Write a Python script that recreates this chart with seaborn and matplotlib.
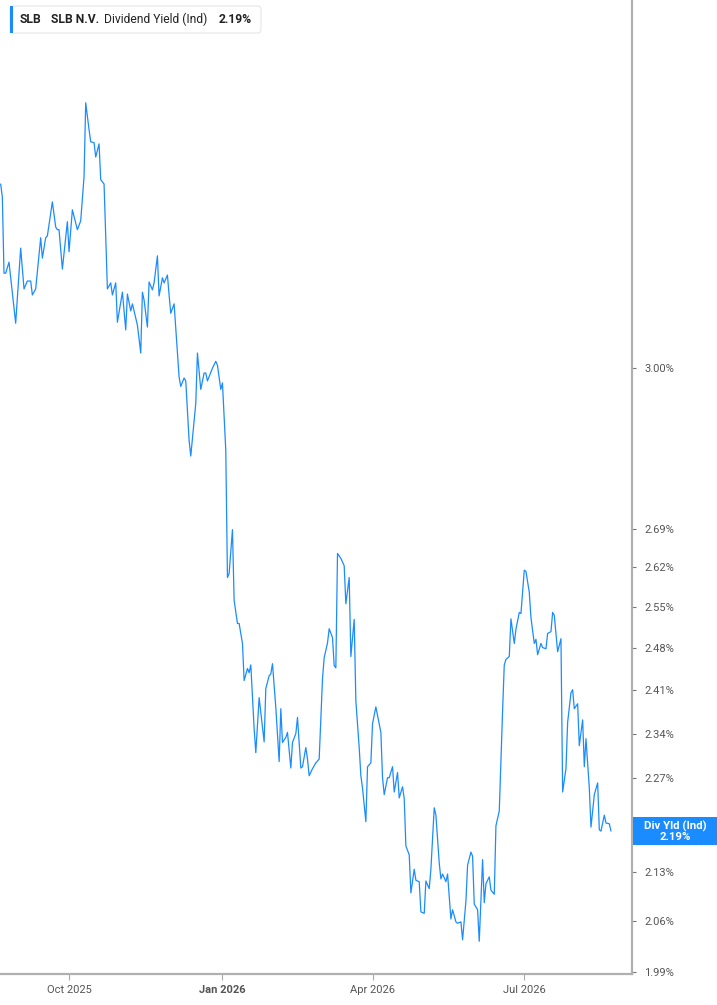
import pandas as pd
import seaborn as sns
import matplotlib.pyplot as plt
import matplotlib.dates as mdates
from matplotlib.patches import Rectangle, FancyBboxPatch
from matplotlib.ticker import FixedLocator, NullLocator

# SLB dividend yield (indicated)
dates = [
    '2025-08-21', '2025-08-22', '2025-08-23', '2025-08-24', '2025-08-26', '2025-08-30',
    '2025-09-02', '2025-09-04', '2025-09-06', '2025-09-08', '2025-09-09', '2025-09-11',
    '2025-09-14', '2025-09-15', '2025-09-17', '2025-09-18', '2025-09-21', '2025-09-23',
    '2025-09-24', '2025-09-25', '2025-09-27', '2025-09-28', '2025-09-30', '2025-10-01',
    '2025-10-03', '2025-10-06', '2025-10-08', '2025-10-10', '2025-10-11', '2025-10-13',
    '2025-10-14', '2025-10-16', '2025-10-17', '2025-10-19', '2025-10-20', '2025-10-22',
    '2025-10-24', '2025-10-26', '2025-10-27', '2025-10-29', '2025-10-30', '2025-11-01',
    '2025-11-02', '2025-11-04', '2025-11-05', '2025-11-07', '2025-11-08', '2025-11-11',
    '2025-11-13', '2025-11-14', '2025-11-15', '2025-11-17', '2025-11-18', '2025-11-20',
    '2025-11-21', '2025-11-23', '2025-11-24', '2025-11-26', '2025-11-27', '2025-11-29',
    '2025-11-30', '2025-12-01', '2025-12-03', '2025-12-05', '2025-12-06', '2025-12-07',
    '2025-12-09', '2025-12-10', '2025-12-12', '2025-12-13', '2025-12-16', '2025-12-17',
    '2025-12-19', '2025-12-21', '2025-12-22', '2025-12-23', '2025-12-26', '2025-12-28',
    '2025-12-29', '2025-12-31', '2026-01-01', '2026-01-03', '2026-01-04', '2026-01-05',
    '2026-01-07', '2026-01-08', '2026-01-10', '2026-01-11', '2026-01-13', '2026-01-14',
    '2026-01-16', '2026-01-17', '2026-01-18', '2026-01-20', '2026-01-21', '2026-01-23',
    '2026-01-24', '2026-01-26', '2026-01-27', '2026-01-29', '2026-01-30', '2026-01-31',
    '2026-02-02', '2026-02-04', '2026-02-05', '2026-02-06', '2026-02-08', '2026-02-09',
    '2026-02-11', '2026-02-12', '2026-02-14', '2026-02-15', '2026-02-17', '2026-02-18',
    '2026-02-20', '2026-02-21', '2026-02-22', '2026-02-24', '2026-02-26', '2026-02-28',
    '2026-03-02', '2026-03-03', '2026-03-05', '2026-03-06', '2026-03-08', '2026-03-09',
    '2026-03-10', '2026-03-11', '2026-03-13', '2026-03-15', '2026-03-16', '2026-03-18',
    '2026-03-19', '2026-03-21', '2026-03-22', '2026-03-24', '2026-03-25', '2026-03-26',
    '2026-03-28', '2026-03-29', '2026-03-31', '2026-04-01', '2026-04-03', '2026-04-04',
    '2026-04-06', '2026-04-07', '2026-04-08', '2026-04-10', '2026-04-11', '2026-04-13',
    '2026-04-14', '2026-04-16', '2026-04-17', '2026-04-19', '2026-04-20', '2026-04-21',
    '2026-04-23', '2026-04-24', '2026-04-26', '2026-04-27', '2026-04-29', '2026-04-30',
    '2026-05-02', '2026-05-03', '2026-05-05', '2026-05-06', '2026-05-08', '2026-05-09',
    '2026-05-11', '2026-05-12', '2026-05-13', '2026-05-15', '2026-05-16', '2026-05-18',
    '2026-05-19', '2026-05-21', '2026-05-22', '2026-05-24', '2026-05-25', '2026-05-27',
    '2026-05-28', '2026-05-30', '2026-05-31', '2026-06-01', '2026-06-03', '2026-06-04',
    '2026-06-06', '2026-06-07', '2026-06-08', '2026-06-10', '2026-06-11', '2026-06-13',
    '2026-06-14', '2026-06-16', '2026-06-18', '2026-06-19', '2026-06-20', '2026-06-22',
    '2026-06-23', '2026-06-25', '2026-06-26', '2026-06-28', '2026-06-29', '2026-07-01',
    '2026-07-02', '2026-07-04', '2026-07-05', '2026-07-07', '2026-07-08', '2026-07-09',
    '2026-07-11', '2026-07-12', '2026-07-14', '2026-07-15', '2026-07-17', '2026-07-18',
    '2026-07-19', '2026-07-21', '2026-07-23', '2026-07-24', '2026-07-26', '2026-07-27',
    '2026-07-29', '2026-07-30', '2026-07-31', '2026-08-02', '2026-08-03', '2026-08-05',
    '2026-08-06', '2026-08-07', '2026-08-09', '2026-08-10', '2026-08-12', '2026-08-14',
    '2026-08-15', '2026-08-16', '2026-08-18', '2026-08-19', '2026-08-21', '2026-08-22',
]
div_yield = [
    3.400, 3.370, 3.200, 3.200, 3.224, 3.093,
    3.255, 3.166, 3.183, 3.183, 3.153, 3.166,
    3.278, 3.233, 3.278, 3.282, 3.359, 3.302,
    3.296, 3.296, 3.209, 3.244, 3.314, 3.247,
    3.341, 3.296, 3.316, 3.417, 3.593, 3.528,
    3.499, 3.497, 3.463, 3.494, 3.410, 3.400,
    3.166, 3.179, 3.153, 3.179, 3.095, 3.138,
    3.159, 3.079, 3.155, 3.119, 3.134, 3.089,
    3.031, 3.159, 3.142, 3.085, 3.181, 3.164,
    3.179, 3.238, 3.151, 3.190, 3.179, 3.196,
    3.153, 3.114, 3.134, 3.033, 2.982, 2.963,
    2.980, 2.974, 2.856, 2.826, 2.929, 3.031,
    2.957, 2.990, 2.990, 2.974, 3.000, 3.014,
    3.006, 2.957, 2.970, 2.837, 2.602, 2.609,
    2.688, 2.562, 2.522, 2.522, 2.488, 2.426,
    2.446, 2.439, 2.452, 2.348, 2.310, 2.398,
    2.374, 2.327, 2.413, 2.434, 2.437, 2.454,
    2.382, 2.296, 2.380, 2.326, 2.334, 2.342,
    2.286, 2.326, 2.340, 2.366, 2.286, 2.288,
    2.318, 2.300, 2.274, 2.285, 2.294, 2.300,
    2.429, 2.464, 2.489, 2.513, 2.498, 2.451,
    2.447, 2.645, 2.636, 2.623, 2.556, 2.602,
    2.466, 2.529, 2.393, 2.318, 2.274, 2.255,
    2.204, 2.288, 2.294, 2.356, 2.383, 2.369,
    2.342, 2.271, 2.245, 2.271, 2.271, 2.288,
    2.249, 2.279, 2.240, 2.257, 2.239, 2.168,
    2.155, 2.100, 2.134, 2.118, 2.116, 2.073,
    2.071, 2.117, 2.106, 2.134, 2.225, 2.214,
    2.143, 2.120, 2.127, 2.116, 2.127, 2.063,
    2.076, 2.059, 2.057, 2.059, 2.034, 2.088,
    2.140, 2.159, 2.153, 2.084, 2.076, 2.032,
    2.148, 2.086, 2.113, 2.123, 2.104, 2.098,
    2.198, 2.220, 2.377, 2.452, 2.461, 2.466,
    2.530, 2.488, 2.512, 2.541, 2.539, 2.615,
    2.613, 2.576, 2.532, 2.488, 2.495, 2.469,
    2.488, 2.481, 2.479, 2.505, 2.508, 2.541,
    2.536, 2.474, 2.496, 2.249, 2.285, 2.358,
    2.406, 2.411, 2.380, 2.388, 2.321, 2.362,
    2.288, 2.332, 2.255, 2.196, 2.245, 2.263,
    2.192, 2.190, 2.214, 2.202, 2.201, 2.190,
]

y_ticks = [1.99, 2.06, 2.13, 2.27, 2.34, 2.41, 2.48, 2.55, 2.62, 2.69, 3.00]
x_ticks = ['2025-10-01', '2026-01-01', '2026-04-01', '2026-07-01']
x_tick_labels = ['Oct 2025', 'Jan 2026', 'Apr 2026', 'Jul 2026']

ticker = 'SLB'
company = 'SLB N.V.'
metric = 'Dividend Yield (Ind)'
badge_label = 'Div Yld (Ind)'

df = pd.DataFrame({'date': pd.to_datetime(dates), 'yield': div_yield})

sns.set_style('white')
plt.rcParams['font.family'] = ['Roboto', 'DejaVu Sans']

BLUE = '#1a8cff'
W, H = 717, 1005

fig = plt.figure(figsize=(W / 100, H / 100), dpi=100)
ax = fig.add_axes([0, 1 - 974 / H, 632 / W, 974 / H])

sns.lineplot(data=df, x='date', y='yield', ax=ax, color=BLUE, linewidth=0.9)

ax.set_yscale('log')
ax.set_ylim(1.9873, 3.853)
ax.set_xlim(pd.Timestamp('2025-10-01') - pd.Timedelta(days=41.4),
            pd.Timestamp('2025-10-01') + pd.Timedelta(days=337.6))

ax.yaxis.set_major_locator(FixedLocator(y_ticks))
ax.yaxis.set_minor_locator(NullLocator())
ax.set_yticklabels([f'{v:.2f}%' for v in y_ticks])
ax.yaxis.tick_right()

ax.set_xticks(pd.to_datetime(x_ticks))
ax.set_xticklabels(x_tick_labels)
ax.xaxis.set_minor_locator(NullLocator())
ax.get_xticklabels()[1].set_fontweight('bold')
ax.get_xticklabels()[1].set_color('#444444')

ax.tick_params(axis='y', length=3, width=0.8, color='#777777', labelcolor='#555555',
               labelsize=8, pad=6, right=True, left=False)
ax.tick_params(axis='x', length=4, width=0.8, color='#aaaaaa', labelcolor='#555555',
               labelsize=8, pad=4, bottom=True)

ax.set_xlabel('')
ax.set_ylabel('')
for side in ['top', 'left']:
    ax.spines[side].set_visible(False)
for side in ['right', 'bottom']:
    ax.spines[side].set_color('#b0b0b0')
    ax.spines[side].set_linewidth(1.6)


def fx(px):
    return px / W


def fy(py):
    return 1 - py / H


# legend box in the top-left corner
fig.patches.append(FancyBboxPatch((fx(10), fy(33)), fx(251), 27 / H,
                                  boxstyle='round,pad=0,rounding_size=0.004',
                                  transform=fig.transFigure, fc='white',
                                  ec='#e6e6e6', lw=0.8, zorder=5))
fig.patches.append(Rectangle((fx(10), fy(33)), fx(3), 27 / H, transform=fig.transFigure,
                             fc=BLUE, ec='none', zorder=6))
legend_y = fy(19.5)
fig.text(fx(20), legend_y, ticker, fontsize=8.7, fontweight='bold', color='#222222',
         va='center', zorder=7)
fig.text(fx(51), legend_y, company, fontsize=8.7, fontweight='bold', color='#222222',
         va='center', zorder=7)
fig.text(fx(104), legend_y, metric, fontsize=8.7, color='#222222', va='center', zorder=7)
fig.text(fx(219), legend_y, f'{div_yield[-1]:.2f}%', fontsize=8.7, fontweight='bold',
         color='#222222', va='center', zorder=7)

# last value badge on the right axis
last_disp = ax.transData.transform((0, div_yield[-1]))
last_fy = fig.transFigure.inverted().transform(last_disp)[1]
fig.patches.append(Rectangle((fx(632.5), last_fy - 14 / H), fx(W - 632.5), 28 / H,
                             transform=fig.transFigure, fc=BLUE, ec='none', zorder=5))
fig.text(fx(675), last_fy, f'{badge_label}\n{div_yield[-1]:.2f}%', fontsize=8.2,
         fontweight='bold', color='white', ha='center', va='center',
         linespacing=1.0, zorder=6)

fig.savefig('out.png', dpi=100)
